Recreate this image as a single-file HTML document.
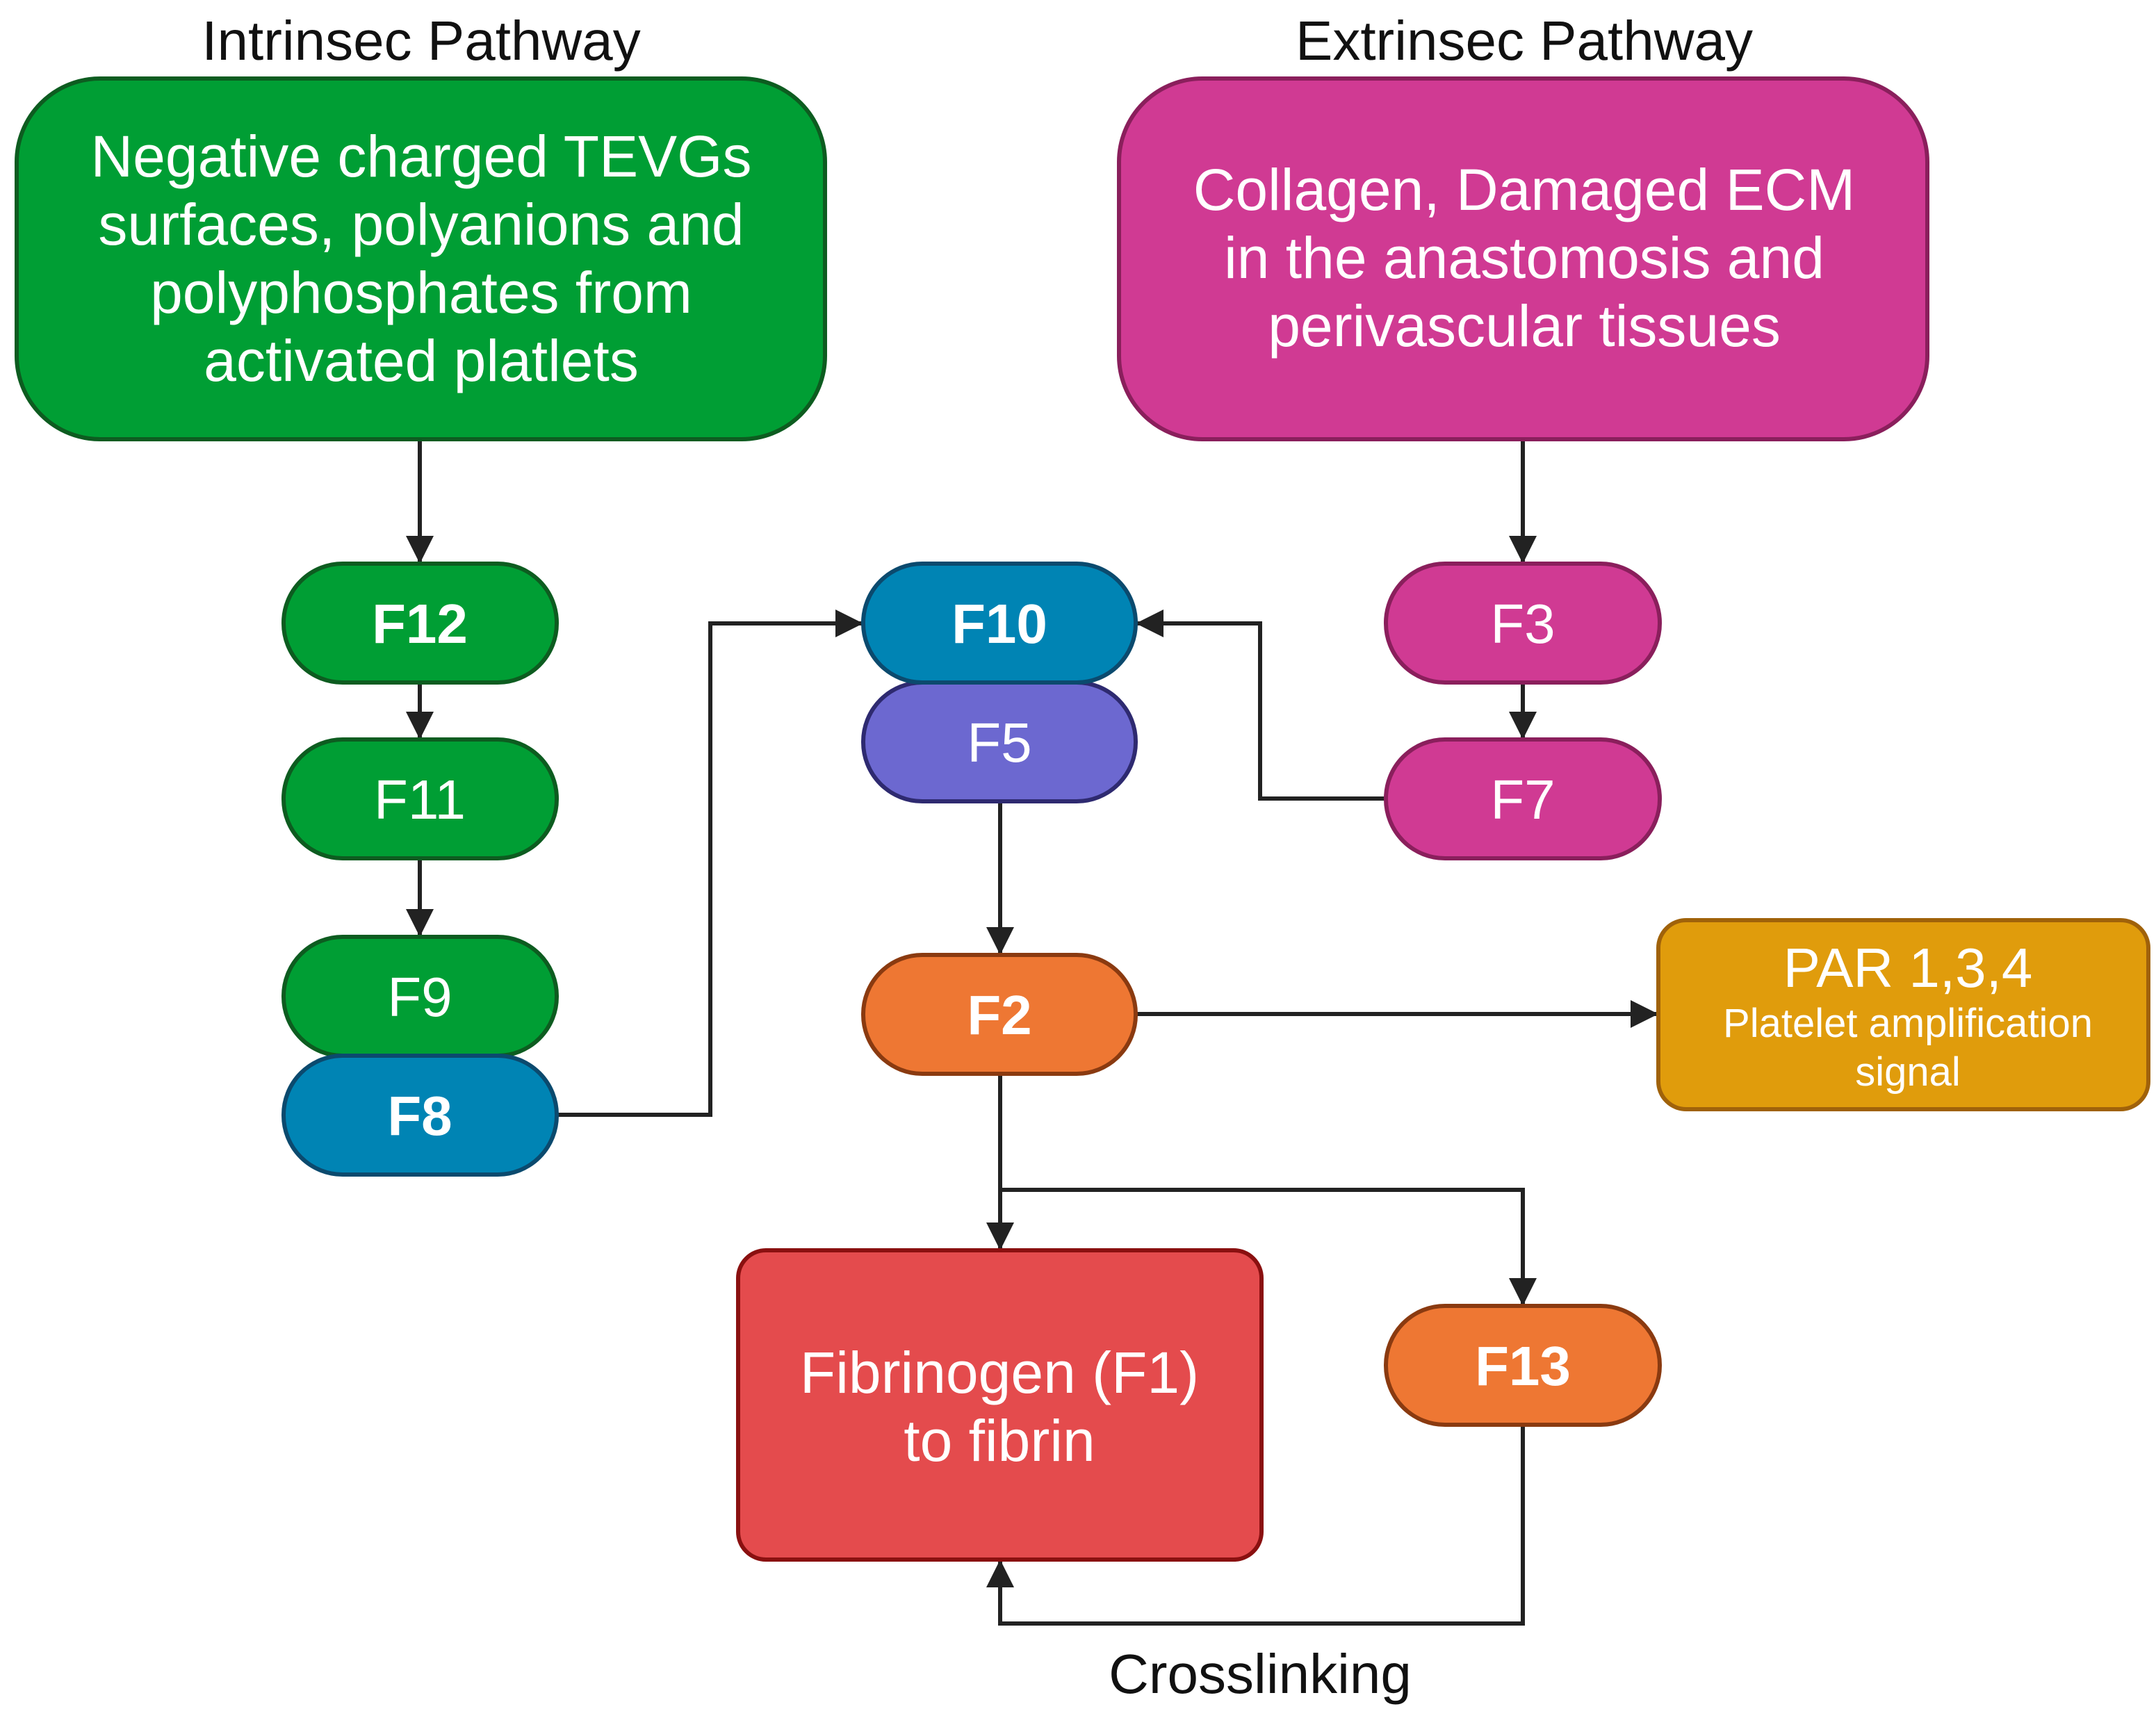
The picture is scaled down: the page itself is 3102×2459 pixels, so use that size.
<!DOCTYPE html>
<html><head><meta charset="utf-8"><style>html,body{margin:0;padding:0;background:#fff}svg{display:block}</style></head>
<body>
<svg width="3102" height="2459" viewBox="0 0 3102 2459" xmlns="http://www.w3.org/2000/svg" font-family="'Liberation Sans', sans-serif">
<defs>
<marker id="a" markerWidth="40" markerHeight="40" refX="38" refY="20" markerUnits="userSpaceOnUse" orient="auto"><path d="M0,0 L40,20 L0,40 Z" fill="#222"/></marker>
</defs>
<g stroke="#222" stroke-width="6" fill="none" marker-end="url(#a)">
<path d="M604,632 V809"/>
<path d="M604,982 V1062"/>
<path d="M604,1235 V1346"/>
<path d="M801,1604 H1022 V897 H1240"/>
<path d="M1994,1149 H1813 V897 H1636"/>
<path d="M2191,632 V809"/>
<path d="M2191,982 V1062"/>
<path d="M1439,1153 V1372"/>
<path d="M1634,1459 H2384"/>
<path d="M1439,1545 V1797"/>
<path d="M1439,1712 H2191 V1877"/>
<path d="M2191,2050 V2336 H1439 V2246"/>
</g>
<g stroke-width="6">
<rect x="24" y="113" width="1163" height="519" rx="120" fill="#009e34" stroke="#0d5c20"/>
<rect x="1610" y="113" width="1163" height="519" rx="120" fill="#d03a93" stroke="#8a1f5c"/>
<rect x="408" y="811" width="393" height="171" rx="85" fill="#009e34" stroke="#0d5c20"/>
<rect x="408" y="1064" width="393" height="171" rx="85" fill="#009e34" stroke="#0d5c20"/>
<rect x="408" y="1348" width="393" height="171" rx="85" fill="#009e34" stroke="#0d5c20"/>
<rect x="408" y="1519" width="393" height="171" rx="85" fill="#0084b4" stroke="#0b4a6e"/>
<rect x="1242" y="982" width="392" height="171" rx="85" fill="#6c68d0" stroke="#2e2a70"/>
<rect x="1242" y="811" width="392" height="171" rx="85" fill="#0084b4" stroke="#0b4a6e"/>
<rect x="1994" y="811" width="394" height="171" rx="85" fill="#d03a93" stroke="#8a1f5c"/>
<rect x="1994" y="1064" width="394" height="171" rx="85" fill="#d03a93" stroke="#8a1f5c"/>
<rect x="1242" y="1374" width="392" height="171" rx="85" fill="#ee7733" stroke="#8a3a10"/>
<rect x="1994" y="1879" width="394" height="171" rx="85" fill="#ee7733" stroke="#8a3a10"/>
<rect x="2386" y="1324" width="705" height="272" rx="40" fill="#e09c0c" stroke="#a0620a"/>
<rect x="1062" y="1799" width="753" height="445" rx="40" fill="#e44b4d" stroke="#8a1010"/>
</g>
<g fill="#111" font-size="80" text-anchor="middle">
<text x="606" y="86">Intrinsec Pathway</text>
<text x="2193" y="86">Extrinsec Pathway</text>
<text x="1813" y="2436">Crosslinking</text>
</g>
<g fill="#fff" text-anchor="middle" font-size="84">
<text x="606" y="254">Negative charged TEVGs</text>
<text x="606" y="352">surfaces, polyanions and</text>
<text x="606" y="450">polyphosphates from</text>
<text x="606" y="548">activated platlets</text>
<text x="2193" y="302">Collagen, Damaged ECM</text>
<text x="2193" y="400">in the anastomosis and</text>
<text x="2193" y="498">perivascular tissues</text>
<text x="1438" y="2004">Fibrinogen (F1)</text>
<text x="1438" y="2102">to fibrin</text>
</g>
<g fill="#fff" text-anchor="middle" font-size="80">
<text x="604" y="925" font-weight="bold">F12</text>
<text x="604" y="1178">F11</text>
<text x="604" y="1462">F9</text>
<text x="604" y="1633" font-weight="bold">F8</text>
<text x="1438" y="925" font-weight="bold">F10</text>
<text x="1438" y="1096">F5</text>
<text x="2191" y="925">F3</text>
<text x="2191" y="1178">F7</text>
<text x="1438" y="1488" font-weight="bold">F2</text>
<text x="2191" y="1993" font-weight="bold">F13</text>
<text x="2745" y="1420">PAR 1,3,4</text>
<text x="2745" y="1492" font-size="58">Platelet amplification</text>
<text x="2745" y="1562" font-size="58">signal</text>
</g>
</svg>
</body></html>
